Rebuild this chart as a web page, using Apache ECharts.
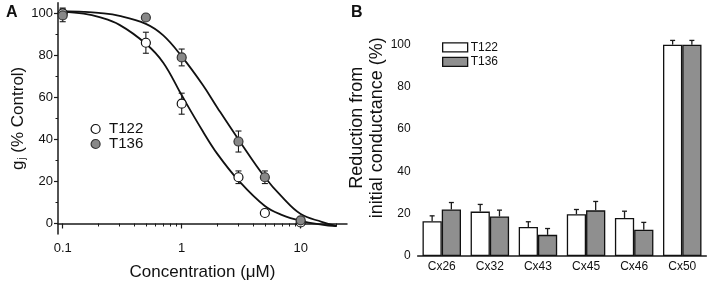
<!DOCTYPE html>
<html>
<head>
<meta charset="utf-8">
<script src="https://cdn.jsdelivr.net/npm/echarts@6/dist/echarts.min.js"></script>
<style>
  html, body { margin: 0; padding: 0; background: #fff; }
  #main { width: 709px; height: 286px; }
</style>
</head>
<body>
<div id="main"></div>
<script>
// panel A: dose response
var conc = [0.1, 0.5, 1, 3, 5, 10];
var t122 = [100, 86, 57, 22, 5, 0.5];
var t122Err = [2.5, 5, 5, 3, 1.5, 1];
var t136 = [99, 98, 79, 39, 22, 1.5];
var t136Err = [3, 1, 4, 5, 3, 1.5];

// fitted curves
var fitX = [0.1, 0.15, 0.2, 0.3, 0.5, 0.7, 1, 1.5, 2, 3, 5, 7, 10, 15, 20];
var fit122 = [100.8, 99.8, 98.3, 94.5, 85.5, 76.5, 61, 44, 33, 20.5, 8.3, 4, 1.3, -0.5, -1.3];
var fit136 = [101, 100.7, 100.2, 98.8, 95, 89.5, 79.5, 66, 55, 40, 22, 12.5, 4.5, 0.8, -1.2];

var xMajor = [0.1, 1, 10];
var xMinor = [0.2, 0.3, 0.4, 0.5, 0.6, 0.7, 0.8, 0.9, 2, 3, 4, 5, 6, 7, 8, 9, 20];
var yMajorA = [0, 20, 40, 60, 80, 100];
var yMinorA = [10, 30, 50, 70, 90];

// panel B: bars
var cats = ['Cx26', 'Cx32', 'Cx43', 'Cx45', 'Cx46', 'Cx50'];
var bT122 = [16.5, 21, 13.7, 19.8, 18, 100];
var bT122Err = [2.5, 3.4, 2.5, 2.2, 3.2, 2];
var bT136 = [22, 18.7, 10, 21.6, 12.4, 100];
var bT136Err = [3.3, 3, 3, 4.2, 3.5, 2];
var yMajorB = [0, 20, 40, 60, 80, 100];
var yMinorB = [10, 30, 50, 70, 90, 110];

var FONT = 'Liberation Sans, Arial, sans-serif';
var chart = echarts.init(document.getElementById('main'));

function zip(xs, ys) {
    return xs.map(function (x, i) { return [x, ys[i]]; });
}
function errData(xs, ys, es) {
    return xs.map(function (x, i) { return [x, ys[i] - es[i], ys[i] + es[i]]; });
}

function renderErrA(params, api) {
    var top = api.coord([api.value(0), api.value(2)]);
    var bot = api.coord([api.value(0), api.value(1)]);
    var st = { stroke: '#1a1a1a', lineWidth: 1.1 };
    return {
        type: 'group',
        children: [
            { type: 'line', shape: { x1: top[0], y1: top[1], x2: bot[0], y2: bot[1] }, style: st },
            { type: 'line', shape: { x1: top[0] - 3, y1: top[1], x2: top[0] + 3, y2: top[1] }, style: st },
            { type: 'line', shape: { x1: bot[0] - 3, y1: bot[1], x2: bot[0] + 3, y2: bot[1] }, style: st }
        ]
    };
}

function makeErrB(side) {
    return function (params, api) {
        var w = api.size([1, 0])[0];
        var base = api.coord([api.value(0), api.value(1)]);
        var top = api.coord([api.value(0), api.value(2)]);
        var x = base[0] + side * 0.2 * w;
        var st = { stroke: '#1a1a1a', lineWidth: 1.3 };
        return {
            type: 'group',
            children: [
                { type: 'line', shape: { x1: x, y1: base[1], x2: x, y2: top[1] }, style: st },
                { type: 'line', shape: { x1: x - 2.5, y1: top[1], x2: x + 2.5, y2: top[1] }, style: st }
            ]
        };
    };
}

var axisLine = { lineStyle: { color: '#1a1a1a', width: 1.5 } };

option = {
    animation: false,
    textStyle: { fontFamily: FONT, color: '#111' },
    graphic: [
        { type: 'text', left: 6, top: 5, style: { text: 'A', font: 'bold 16px ' + FONT, fill: '#111' } },
        { type: 'text', left: 351, top: 5, style: { text: 'B', font: 'bold 16px ' + FONT, fill: '#111' } }
    ],
    grid: [
        { left: 58, top: 2.8, width: 289, height: 231.7 },
        { left: 417.7, top: 23.5, width: 288.6, height: 232.5 }
    ],
    legend: [
        {
            left: 85.5, top: 116.5, orient: 'vertical',
            itemWidth: 9, itemHeight: 9, itemGap: 0,
            textStyle: { fontSize: 15, lineHeight: 15, fontFamily: FONT, color: '#111', padding: [0, 0, 0, 4] },
            data: [
                { name: 'T122', icon: 'circle', itemStyle: { color: '#fff', borderColor: '#111', borderWidth: 1.2 } },
                { name: 'T136', icon: 'circle', itemStyle: { color: '#888', borderColor: '#333', borderWidth: 1.2 } }
            ]
        },
        {
            left: 437, top: 35, orient: 'vertical',
            itemWidth: 25, itemHeight: 9, itemGap: 0,
            textStyle: { fontSize: 12, lineHeight: 14.6, fontFamily: FONT, color: '#111', padding: [0, 0, 0, -2] },
            data: [
                { name: 'T122', icon: 'rect', itemStyle: { color: '#fff', borderColor: '#111', borderWidth: 1.3 } },
                { name: 'T136', icon: 'rect', itemStyle: { color: '#8f8f8f', borderColor: '#111', borderWidth: 1.3 } }
            ]
        }
    ],
    xAxis: [
        {
            type: 'log', gridIndex: 0, position: 'bottom',
            min: 0.0913, max: 24.5,
            axisLine: axisLine,
            splitLine: { show: false },
            axisTick: { customValues: xMajor, length: 5, lineStyle: { color: '#1a1a1a', width: 1.2 } },
            axisLabel: {
                customValues: xMajor, margin: 8, fontSize: 13, color: '#111',
                formatter: function (v) { return String(+(+v).toPrecision(3)); }
            },
            name: 'Concentration (μM)', nameLocation: 'middle', nameGap: 30,
            nameTextStyle: { fontSize: 17, color: '#111' }
        },
        {
            type: 'log', gridIndex: 0, position: 'bottom',
            min: 0.0913, max: 24.5,
            axisLine: { show: false },
            splitLine: { show: false },
            axisLabel: { show: false },
            axisTick: { customValues: xMinor, length: 3, lineStyle: { color: '#1a1a1a', width: 1 } }
        },
        {
            type: 'category', gridIndex: 1, data: cats,
            axisLine: axisLine,
            axisTick: { show: false },
            axisLabel: { fontSize: 12, margin: 5, color: '#111' }
        }
    ],
    yAxis: [
        {
            type: 'value', gridIndex: 0, position: 'left',
            min: -5, max: 105,
            axisLine: axisLine,
            splitLine: { show: false },
            axisTick: { customValues: yMajorA, length: 4, lineStyle: { color: '#1a1a1a', width: 1.2 } },
            axisLabel: { customValues: yMajorA, margin: 5, fontSize: 13, color: '#111' },
            name: '{g|g}{sub|j}{n| (% Control)}', nameLocation: 'middle', nameGap: 28,
            nameTextStyle: {
                rich: {
                    g: { fontSize: 17, fontFamily: FONT, color: '#111' },
                    sub: { fontSize: 10, fontFamily: FONT, color: '#111', padding: [9, 0, 0, 1] },
                    n: { fontSize: 17, fontFamily: FONT, color: '#111' }
                }
            }
        },
        {
            type: 'value', gridIndex: 0, position: 'left', offset: 0,
            min: -5, max: 105,
            axisLine: { show: false },
            splitLine: { show: false },
            axisLabel: { show: false },
            axisTick: { customValues: yMinorA, length: 2.5, lineStyle: { color: '#1a1a1a', width: 1 } }
        },
        {
            type: 'value', gridIndex: 1, position: 'left',
            min: 0, max: 110,
            axisLine: axisLine,
            splitLine: { show: false },
            axisTick: { customValues: yMajorB, length: 3, lineStyle: { color: '#1a1a1a', width: 1.2 } },
            axisLabel: { customValues: yMajorB, margin: 7, fontSize: 12, color: '#111' },
            name: 'Reduction from\ninitial conductance (%)', nameLocation: 'middle', nameGap: 28,
            nameTextStyle: { fontSize: 18, lineHeight: 20, color: '#111', padding: [0, 0, 0, 24] }
        },
        {
            type: 'value', gridIndex: 1, position: 'left', offset: 0,
            min: 0, max: 110,
            axisLine: { show: false },
            splitLine: { show: false },
            axisLabel: { show: false },
            axisTick: { customValues: yMinorB, length: 2, lineStyle: { color: '#1a1a1a', width: 1 } }
        }
    ],
    series: [
        {
            name: 'fit122', type: 'line', xAxisIndex: 0, yAxisIndex: 0,
            data: zip(fitX, fit122), smooth: 0.4, showSymbol: false, z: 2,
            lineStyle: { color: '#111', width: 1.8 }
        },
        {
            name: 'fit136', type: 'line', xAxisIndex: 0, yAxisIndex: 0,
            data: zip(fitX, fit136), smooth: 0.4, showSymbol: false, z: 2,
            lineStyle: { color: '#111', width: 1.8 }
        },
        {
            name: 'err122', type: 'custom', xAxisIndex: 0, yAxisIndex: 0, z: 3,
            renderItem: renderErrA, encode: { x: 0, y: [1, 2] },
            data: errData(conc, t122, t122Err)
        },
        {
            name: 'err136', type: 'custom', xAxisIndex: 0, yAxisIndex: 0, z: 3,
            renderItem: renderErrA, encode: { x: 0, y: [1, 2] },
            data: errData(conc, t136, t136Err)
        },
        {
            name: 'T122', type: 'scatter', xAxisIndex: 0, yAxisIndex: 0, z: 4,
            symbol: 'circle', symbolSize: 9,
            itemStyle: { color: '#fff', borderColor: '#111', borderWidth: 1.2, opacity: 1 },
            data: zip(conc, t122)
        },
        {
            name: 'T136', type: 'scatter', xAxisIndex: 0, yAxisIndex: 0, z: 4,
            symbol: 'circle', symbolSize: 9,
            itemStyle: { color: '#888', borderColor: '#333', borderWidth: 1.2, opacity: 1 },
            data: zip(conc, t136)
        },
        {
            name: 'T122', type: 'bar', xAxisIndex: 2, yAxisIndex: 2, z: 2,
            barGap: '0%', barCategoryGap: '20%',
            itemStyle: { color: '#fff', borderColor: '#111', borderWidth: 1.3 },
            data: bT122
        },
        {
            name: 'T136', type: 'bar', xAxisIndex: 2, yAxisIndex: 2, z: 2,
            barGap: '0%', barCategoryGap: '20%',
            itemStyle: { color: '#8f8f8f', borderColor: '#111', borderWidth: 1.3 },
            data: bT136
        },
        {
            name: 'errB122', type: 'custom', xAxisIndex: 2, yAxisIndex: 2, z: 3,
            renderItem: makeErrB(-1), encode: { x: 0, y: [1, 2] },
            data: cats.map(function (c, i) { return [i, bT122[i], bT122[i] + bT122Err[i]]; })
        },
        {
            name: 'errB136', type: 'custom', xAxisIndex: 2, yAxisIndex: 2, z: 3,
            renderItem: makeErrB(1), encode: { x: 0, y: [1, 2] },
            data: cats.map(function (c, i) { return [i, bT136[i], bT136[i] + bT136Err[i]]; })
        }
    ]
};
chart.setOption(option);
</script>
</body>
</html>
